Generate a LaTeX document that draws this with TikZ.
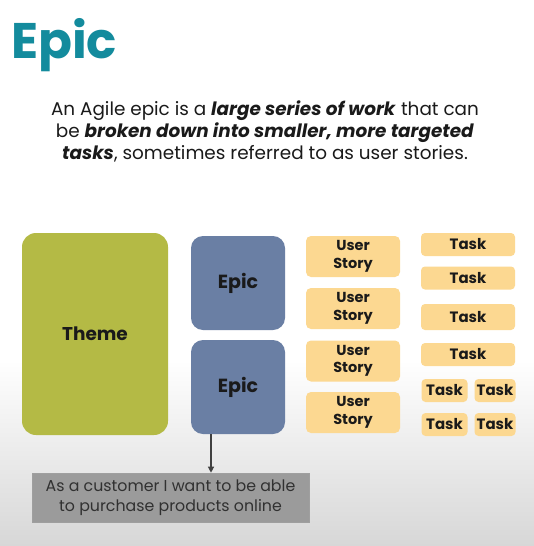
\documentclass[tikz,border=0pt]{standalone}
\usepackage{fontspec}
\setmainfont{Poppins}
\usetikzlibrary{arrows.meta}
\definecolor{titleteal}{HTML}{138B9D}
\definecolor{themegreen}{HTML}{B4BA45}
\definecolor{epicblue}{HTML}{6A7FA4}
\definecolor{storyorange}{HTML}{FCD891}
\definecolor{notegray}{HTML}{9B9B9B}
\definecolor{inktext}{HTML}{1A1A1A}
\definecolor{bglow}{HTML}{D7D7D7}
\tikzset{
  box/.style={inner sep=0pt, align=center, text=inktext, font=\bfseries},
  themebox/.style={box, fill=themegreen, rounded corners=14pt, font=\bfseries\fontsize{18.5}{22}\selectfont},
  epicbox/.style={box, fill=epicblue, rounded corners=12pt, font=\bfseries\fontsize{19}{22}\selectfont},
  storybox/.style={box, fill=storyorange, rounded corners=5pt, font=\bfseries\fontsize{14.5}{17.5}\selectfont},
  taskbox/.style={box, fill=storyorange, rounded corners=4pt, font=\bfseries\fontsize{15}{17}\selectfont},
  notebox/.style={box, fill=notegray, draw=gray!75, line width=0.6pt, font=\fontsize{15.8}{19.5}\selectfont, text=inktext!90},
  link/.style={draw=black!75, line width=1.2pt, -{Triangle[length=6pt,width=6pt]}}
}
\begin{document}
\begin{tikzpicture}[x=1pt,y=-1pt]
  % page background with a soft grey fade towards the bottom
  \useasboundingbox (0,0) rectangle (534,546);
  \fill[white] (0,0) rectangle (534,360);
  \shade[top color=white, bottom color=bglow] (0,360) rectangle (534,546);

  % heading and description
  \node[anchor=base west, inner sep=0pt, text=titleteal, font=\bfseries\fontsize{50}{56}\selectfont] (title) at (11,58) {Epic};
  \node[anchor=north, inner sep=0pt, align=center, text=inktext, font=\fontsize{18.4}{21.8}\selectfont] (desc) at (265,100.5)
    {An Agile epic is a \textbf{\itshape large series of work} that can\\
     be \textbf{\itshape broken down into smaller, more targeted}\\
     \textbf{\itshape tasks}, sometimes referred to as user stories.};

  % hierarchy: theme, epics, user stories, tasks
  \node[themebox, minimum width=146, minimum height=202] (theme) at (95,334) {Theme};
  \node[epicbox, minimum width=94, minimum height=94] (epic1) at (238,283) {Epic};
  \node[epicbox, minimum width=94, minimum height=94] (epic2) at (238,387) {Epic};

  \node[storybox, minimum width=94, minimum height=41] (us1) at (353,256.5) {User\\Story};
  \node[storybox, minimum width=94, minimum height=41] (us2) at (353,308.5) {User\\Story};
  \node[storybox, minimum width=94, minimum height=41] (us3) at (353,361) {User\\Story};
  \node[storybox, minimum width=94, minimum height=41] (us4) at (353,412.5) {User\\Story};

  \node[taskbox, minimum width=94, minimum height=23] (t1) at (468,244.5) {Task};
  \node[taskbox, minimum width=94, minimum height=23] (t2) at (468,278) {Task};
  \node[taskbox, minimum width=94, minimum height=26] (t3) at (468,317) {Task};
  \node[taskbox, minimum width=94, minimum height=23] (t4) at (468,354.5) {Task};
  \node[taskbox, minimum width=46, minimum height=23] (t5) at (444.5,390.5) {Task};
  \node[taskbox, minimum width=41, minimum height=23] (t6) at (495,390.5) {Task};
  \node[taskbox, minimum width=46, minimum height=23] (t7) at (444.5,424.5) {Task};
  \node[taskbox, minimum width=41, minimum height=23] (t8) at (495,424.5) {Task};

  % example user story hanging off the second epic
  \node[notebox, minimum width=277, minimum height=49] (note) at (170.5,497.5)
    {As a customer I want to be able\\to purchase products online};
  \coordinate (src) at (211,434);
  \draw[link] (src) -- (src |- note.north);
\end{tikzpicture}
\end{document}
